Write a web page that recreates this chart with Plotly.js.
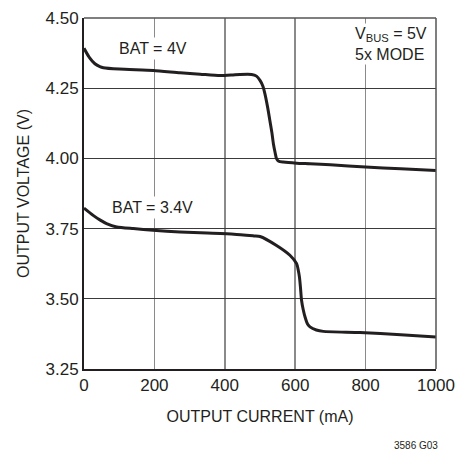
<!DOCTYPE html>
<html>
<head>
<meta charset="utf-8">
<script src="https://cdn.plot.ly/plotly-3.0.1.min.js"></script>
<style>html,body{margin:0;padding:0;background:#fff;}#chart{width:468px;height:451px;}</style>
</head>
<body>
<div id="chart"></div>
<script>
// Output current (mA) and output voltage (V)
const bat4_current = [0, 15, 31, 45, 55, 100, 197, 273, 330, 386, 420, 443, 476, 490, 500, 508, 514, 522, 528, 534, 538, 543, 547, 553, 566, 604, 642, 700, 800, 900, 1000];
const bat4_voltage = [4.392, 4.36, 4.337, 4.327, 4.323, 4.318, 4.313, 4.305, 4.300, 4.295, 4.297, 4.299, 4.299, 4.293, 4.278, 4.258, 4.230, 4.18, 4.135, 4.09, 4.052, 4.02, 3.999, 3.99, 3.987, 3.983, 3.981, 3.977, 3.969, 3.963, 3.957];

const bat34_current = [0, 26, 45, 64, 93, 140, 196, 273, 350, 426, 483, 500, 547, 585, 604, 609, 612, 615, 618, 623, 628, 635, 642, 660, 680, 784, 900, 1000];
const bat34_voltage = [3.823, 3.797, 3.781, 3.768, 3.756, 3.750, 3.744, 3.738, 3.734, 3.730, 3.724, 3.722, 3.690, 3.655, 3.625, 3.600, 3.578, 3.54, 3.495, 3.46, 3.435, 3.41, 3.400, 3.389, 3.384, 3.380, 3.372, 3.364];

const xTicks = [0, 200, 400, 600, 800, 1000];
const yTicks = [3.25, 3.50, 3.75, 4.00, 4.25, 4.50];
const yTickLabels = ["3.25", "3.50", "3.75", "4.00", "4.25", "4.50"];

const FONT = '"Liberation Sans", Arial, sans-serif';
const lineStyle = {color: '#231f20', width: 3, shape: 'spline', smoothing: 0.6};

const traces = [
  {x: bat4_current, y: bat4_voltage, mode: 'lines', line: lineStyle, hoverinfo: 'skip'},
  {x: bat34_current, y: bat34_voltage, mode: 'lines', line: lineStyle, hoverinfo: 'skip'}
];

const layout = {
  width: 468, height: 451,
  margin: {l: 84, r: 32, t: 18, b: 82},
  paper_bgcolor: '#fff', plot_bgcolor: '#fff',
  showlegend: false,
  font: {family: FONT, size: 16, color: '#231f20'},
  xaxis: {
    range: [0, 1000], tickvals: xTicks, ticks: '', ticklen: 0,
    showgrid: true, gridcolor: '#8a8a8a', gridwidth: 1.5,
    zeroline: false, showline: true, linecolor: '#231f20', linewidth: 2,
    tickfont: {family: FONT, size: 17, color: '#231f20'},
    title: {text: 'OUTPUT CURRENT (mA)', font: {family: FONT, size: 16, color: '#231f20'}, standoff: 16},
    fixedrange: true
  },
  yaxis: {
    range: [3.25, 4.5], tickvals: yTicks, ticktext: yTickLabels, ticks: '', ticklen: 0,
    showgrid: true, gridcolor: '#3a3a3a', gridwidth: 1.2,
    zeroline: false, showline: true, linecolor: '#231f20', linewidth: 2,
    tickfont: {family: FONT, size: 17, color: '#231f20'},
    title: {text: 'OUTPUT VOLTAGE (V)', font: {family: FONT, size: 16, color: '#231f20'}, standoff: 12},
    fixedrange: true
  },
  shapes: [
    {type: 'line', xref: 'paper', yref: 'paper', x0: 0, x1: 1, y0: 1, y1: 1, line: {color: '#555', width: 1.5}},
    {type: 'line', xref: 'paper', yref: 'paper', x0: 1, x1: 1, y0: 0, y1: 1, line: {color: '#555', width: 1.5}}
  ],
  annotations: [
    {x: 196, y: 4.392, xref: 'x', yref: 'y', text: 'BAT = 4V', showarrow: false, bgcolor: '#fff',
     font: {family: FONT, size: 16, color: '#231f20'}, borderpad: 2},
    {x: 195, y: 3.824, xref: 'x', yref: 'y', text: 'BAT = 3.4V', showarrow: false, bgcolor: '#fff',
     font: {family: FONT, size: 16, color: '#231f20'}, borderpad: 2},
    {x: 0.98, y: 0.985, xref: 'paper', yref: 'paper', xanchor: 'right', yanchor: 'top', align: 'left',
     text: 'V<sub>BUS</sub> = 5V<br>5x MODE', showarrow: false, bgcolor: '#fff',
     font: {family: FONT, size: 16, color: '#231f20'}, borderpad: 1},
    {x: (416 - 84) / 352, y: -(445 - 369) / 351, xref: 'paper', yref: 'paper', xanchor: 'center', yanchor: 'middle',
     text: '3586 G03', showarrow: false,
     font: {family: FONT, size: 10, color: '#231f20'}}
  ]
};

Plotly.newPlot('chart', traces, layout, {staticPlot: true, displayModeBar: false});
</script>
</body>
</html>
